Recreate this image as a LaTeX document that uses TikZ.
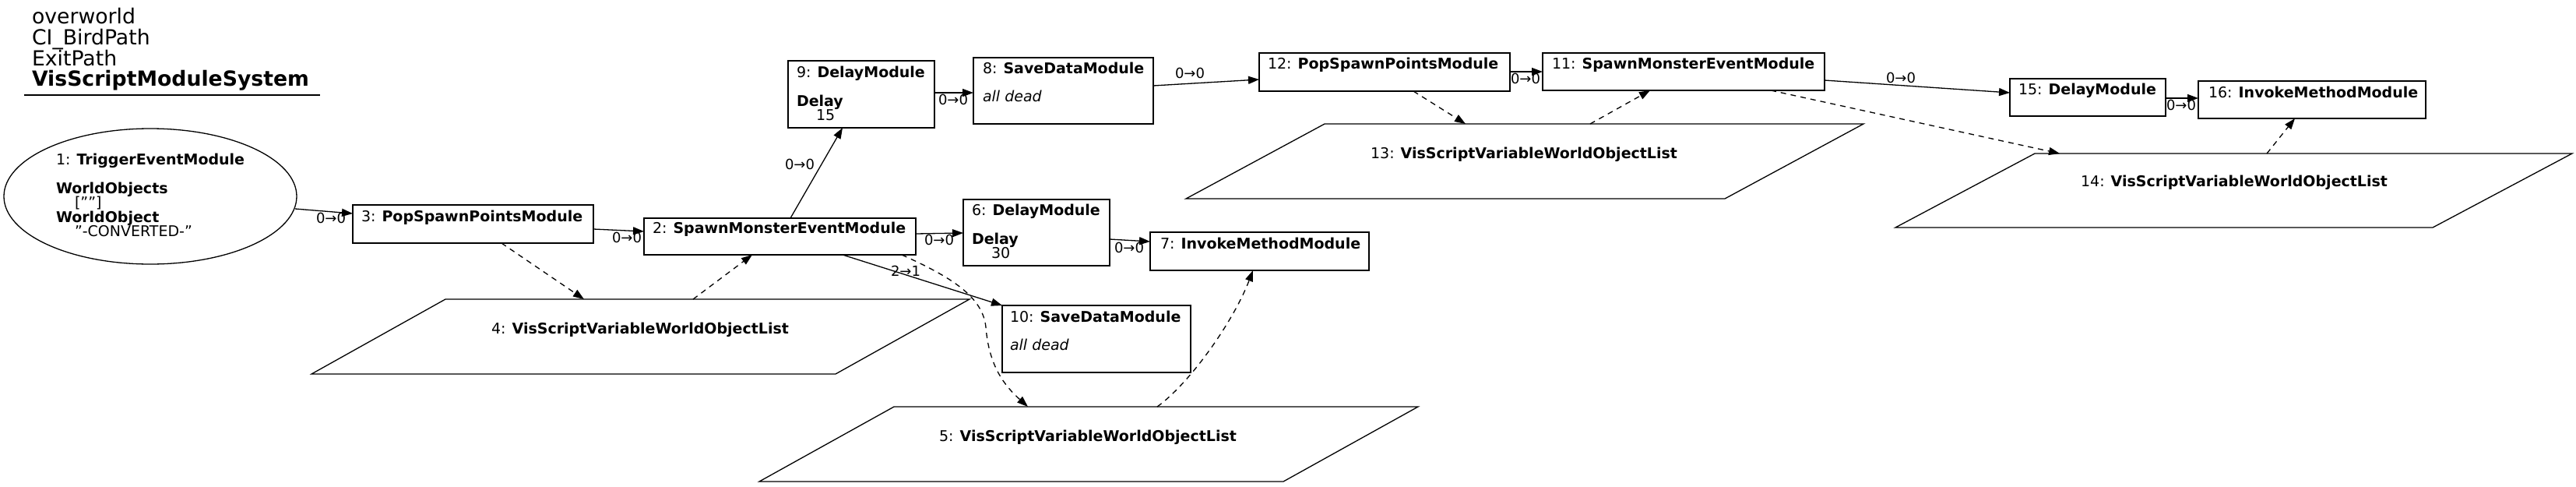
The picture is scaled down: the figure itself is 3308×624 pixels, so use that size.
\documentclass[tikz,border=0pt]{standalone}
\usepackage{fontspec}
\setmainfont{DejaVu Sans}
\usetikzlibrary{arrows.meta,shapes.geometric,calc}
\newcommand\dq{{\char34}}
\begin{document}
\begin{tikzpicture}[x=1pt,y=-1pt,
  every node/.style={inner sep=0pt,outer sep=0pt},
  modline/.style={line width=1.3pt,draw=black},
  modbox/.style={rectangle,modline},
  databox/.style={rectangle},
  txt/.style={anchor=base west,font=\fontsize{19}{22}\selectfont},
  ctxt/.style={anchor=base,font=\fontsize{19}{22}\selectfont},
  ttl/.style={anchor=base west,font=\fontsize{26.7}{30}\selectfont},
  elab/.style={anchor=center,font=\fontsize{18}{21}\selectfont},
  flow/.style={line width=1.3pt,-{Triangle[length=14pt,width=10pt]}},
  varflow/.style={line width=1.3pt,dash pattern=on 7pt off 6pt,-{Triangle[length=14pt,width=10pt]}}]
\path[fill=white] (0,0) rectangle (3308,624);
\useasboundingbox (0,0) rectangle (3308,624);

% title
\node[ttl] (ta) at (41,30) {overworld};
\node[ttl] (tb) at (41,57) {CI\_BirdPath};
\node[ttl] (tc) at (41,84) {ExitPath};
\node[ttl] (td) at (41,110) {\textbf{VisScriptModuleSystem}};
\draw[line width=1.3pt] (31,122) -- (411,122);

% module nodes
\node[ellipse,modline,minimum width=376pt,minimum height=174pt] (n1) at (193,252) {};
\node[modbox,minimum width=309pt,minimum height=49pt] (n3) at (607.5,287.5) {};
\node[modbox,minimum width=349pt,minimum height=47pt] (n2) at (1001.5,303.5) {};
\node[modbox,minimum width=188pt,minimum height=86pt] (n9) at (1106,121) {};
\node[modbox,minimum width=231pt,minimum height=85pt] (n8) at (1365.5,116.5) {};
\node[modbox,minimum width=188pt,minimum height=85pt] (n6) at (1331,298.5) {};
\node[modbox,minimum width=281pt,minimum height=49pt] (n7) at (1617.5,322.5) {};
\node[modbox,minimum width=242pt,minimum height=86pt] (n10) at (1408,435) {};
\node[modbox,minimum width=322pt,minimum height=49pt] (n12) at (1778,92.5) {};
\node[modbox,minimum width=362pt,minimum height=48pt] (n11) at (2162,92) {};
\node[modbox,minimum width=200pt,minimum height=48pt] (n15) at (2681,125) {};
\node[modbox,minimum width=292pt,minimum height=48pt] (n16) at (2969,128) {};

% variable (parallelogram) nodes
\node[databox,minimum width=845pt,minimum height=96pt] (s4) at (822.5,432) {};
\node[databox,minimum width=846pt,minimum height=96pt] (s5) at (1398,570) {};
\node[databox,minimum width=870pt,minimum height=96pt] (s13) at (1958,207) {};
\node[databox,minimum width=869pt,minimum height=95pt] (s14) at (2868.5,244.5) {};
\draw[modline] ([xshift=172pt]s4.north west) -- (s4.north east) -- ([xshift=-172pt]s4.south east) -- (s4.south west) -- cycle;
\draw[modline] ([xshift=173pt]s5.north west) -- (s5.north east) -- ([xshift=-173pt]s5.south east) -- (s5.south west) -- cycle;
\draw[modline] ([xshift=178pt]s13.north west) -- (s13.north east) -- ([xshift=-178pt]s13.south east) -- (s13.south west) -- cycle;
\draw[modline] ([xshift=179pt]s14.north west) -- (s14.north east) -- ([xshift=-179pt]s14.south east) -- (s14.south west) -- cycle;

% texts
\node[txt] (t1a) at (72,211) {1: \textbf{TriggerEventModule}};
\node[txt] (t1b) at (72,248) {\textbf{WorldObjects}};
\node[txt] (t1c) at (96,266.5) {[\dq\dq]};
\node[txt] (t1d) at (72,285) {\textbf{WorldObject}};
\node[txt] (t1e) at (96,303.5) {\dq-CONVERTED-\dq};
\node[txt] (t3) at (464,284) {3: \textbf{PopSpawnPointsModule}};
\node[txt] (t2) at (838,299.5) {2: \textbf{SpawnMonsterEventModule}};
\node[txt] (t9a) at (1023,99) {9: \textbf{DelayModule}};
\node[txt] (t9b) at (1023,136) {\textbf{Delay}};
\node[txt] (t9c) at (1048,154) {15};
\node[txt] (t8a) at (1262,94) {8: \textbf{SaveDataModule}};
\node[txt] (t8b) at (1262,130.5) {\textit{all dead}};
\node[txt] (t6a) at (1248,276) {6: \textbf{DelayModule}};
\node[txt] (t6b) at (1248,313) {\textbf{Delay}};
\node[txt] (t6c) at (1273,331) {30};
\node[txt] (t7) at (1490,319) {7: \textbf{InvokeMethodModule}};
\node[txt] (t10a) at (1297,413) {10: \textbf{SaveDataModule}};
\node[txt] (t10b) at (1297,449) {\textit{all dead}};
\node[txt] (t12) at (1628,88.5) {12: \textbf{PopSpawnPointsModule}};
\node[txt] (t11) at (1993,88.5) {11: \textbf{SpawnMonsterEventModule}};
\node[txt] (t15) at (2592,121) {15: \textbf{DelayModule}};
\node[txt] (t16) at (2836,125) {16: \textbf{InvokeMethodModule}};
\node[ctxt] (t4) at (822,428) {4: \textbf{VisScriptVariableWorldObjectList}};
\node[ctxt] (t5) at (1397,566) {5: \textbf{VisScriptVariableWorldObjectList}};
\node[ctxt] (t13) at (1957,203) {13: \textbf{VisScriptVariableWorldObjectList}};
\node[ctxt] (t14) at (2869,239) {14: \textbf{VisScriptVariableWorldObjectList}};

% flow connectors
\draw[flow] ($(n1.center)+(186,16)$) -- ($(n3.north west)+(0,11)$);
\draw[flow] ($(n3.north west)+(309,31)$) -- ($(n2.north west)+(0,17)$);
\draw[flow] ($(n2.north west)+(188,0)$) -- ($(n9.north west)+(70,86)$);
\draw[flow] ($(n9.north west)+(188,41)$) -- ($(n8.north west)+(0,45)$);
\draw[flow] ($(n8.north west)+(231,36)$) -- ($(n12.north west)+(0,34)$);
\draw[flow] ($(n12.north west)+(322,24)$) -- ($(n11.north west)+(0,24)$);
\draw[flow] ($(n11.north west)+(362,35)$) -- ($(n15.north west)+(0,18)$);
\draw[flow] ($(n15.north west)+(200,25)$) -- ($(n16.north west)+(0,22)$);
\draw[flow] ($(n2.north west)+(349,20)$) -- ($(n6.north west)+(0,43)$);
\draw[flow] ($(n6.north west)+(188,51)$) -- ($(n7.north west)+(0,12)$);
\draw[flow] ($(n2.north west)+(255,47)$) -- (n10.north west);

% edge labels
\node[elab] (l13) at (425,280) {0→0};
\node[elab] (l32) at (805,305) {0→0};
\node[elab] (l29) at (1027,211) {0→0};
\node[elab] (l98) at (1224,128) {0→0};
\node[elab] (l812) at (1528,94) {0→0};
\node[elab] (l1211) at (1959,101) {0→0};
\node[elab] (l1115) at (2441,100) {0→0};
\node[elab] (l1516) at (2801,135) {0→0};
\node[elab] (l26) at (1206,308) {0→0};
\node[elab] (l67) at (1450,318) {0→0};
\node[elab] (l210) at (1163,348) {2→1};

% variable connectors
\draw[varflow] ($(n3.north west)+(191,49)$) -- ($(s4.north west)+(350,0)$);
\draw[varflow] ($(s4.north west)+(490,0)$) -- ($(n2.north west)+(139,47)$);
\draw[varflow] ($(n2.north west)+(331,47)$) .. controls (1220,355) and (1262,380) .. (1266,420)
   .. controls (1270,470) and (1290,495) .. ($(s5.north west)+(345,0)$);
\draw[varflow] ($(s5.north west)+(511,0)$) .. controls (1530,490) and (1585,410) .. ($(n7.north west)+(132,49)$);
\draw[varflow] ($(n12.north west)+(198,49)$) -- ($(s13.north west)+(359,0)$);
\draw[varflow] ($(s13.north west)+(519,0)$) -- ($(n11.north west)+(138,48)$);
\draw[varflow] ($(n11.north west)+(293,48)$) -- ($(s14.north west)+(211,0)$);
\draw[varflow] ($(s14.north west)+(477,0)$) -- ($(n16.north west)+(124,48)$);
\end{tikzpicture}
\end{document}
